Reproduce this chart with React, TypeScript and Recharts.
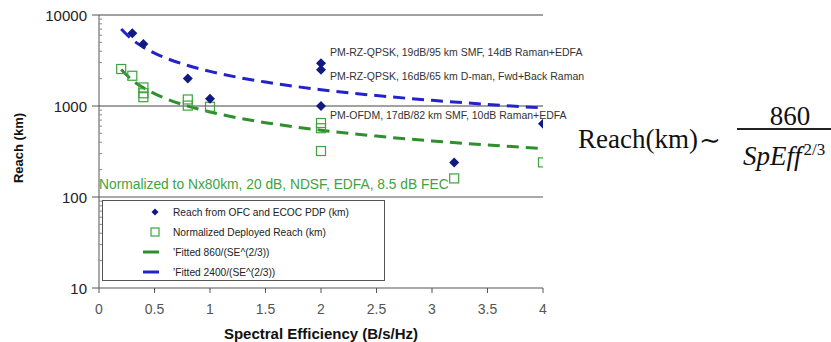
import React from "react";
import {
  ComposedChart,
  XAxis,
  YAxis,
  Line,
  Scatter,
  ReferenceLine,
} from "recharts";

// Reach from OFC and ECOC PDP (km)
const reachX = [0.3, 0.4, 0.8, 1.0, 2.0, 2.0, 2.0, 3.2, 4.0];
const reachY = [6300, 4800, 2000, 1200, 2950, 2500, 1000, 240, 640];

// Normalized Deployed Reach (km)
const normX = [0.2, 0.3, 0.4, 0.4, 0.4, 0.8, 0.8, 1.0, 2.0, 2.0, 2.0, 3.2, 4.0];
const normY = [2550, 2150, 1600, 1380, 1250, 1180, 1010, 980, 650, 570, 320, 160, 240];

// Fitted curves
const fitX = [0.2, 0.3, 0.4, 0.5, 0.6, 0.8, 1.0, 1.25, 1.5, 2.0, 2.5, 3.0, 3.5, 4.0];
const fit860Y = [2515, 1919, 1584, 1365, 1209, 998, 860, 741, 656, 542, 467, 413, 373, 341];
const fit2400Y = [7018, 5356, 4421, 3810, 3374, 2785, 2400, 2068, 1831, 1512, 1303, 1154, 1041, 952];

const xTicks = [0, 0.5, 1, 1.5, 2, 2.5, 3, 3.5, 4];
const yMajor = [10, 100, 1000, 10000];
const yTicksAll = [
  10, 20, 30, 40, 50, 60, 70, 80, 90,
  100, 200, 300, 400, 500, 600, 700, 800, 900,
  1000, 2000, 3000, 4000, 5000, 6000, 7000, 8000, 9000,
  10000,
];

const annotations = [
  "PM-RZ-QPSK, 19dB/95 km SMF, 14dB Raman+EDFA",
  "PM-RZ-QPSK, 16dB/65 km D-man, Fwd+Back Raman",
  "PM-OFDM, 17dB/82 km SMF, 10dB Raman+EDFA",
];
const noteText = "Normalized to Nx80km, 20 dB, NDSF, EDFA, 8.5 dB FEC";
const legendLabels = [
  "Reach from OFC and ECOC PDP (km)",
  "Normalized Deployed Reach (km)",
  "Fitted 860/(SE^(2/3))",
  "Fitted 2400/(SE^(2/3))",
];

const reachData = reachX.map((x, i) => ({ x, y: reachY[i] }));
const normData = normX.map((x, i) => ({ x, y: normY[i] }));
const fit860 = fitX.map((x, i) => ({ x, y: fit860Y[i] }));
const fit2400 = fitX.map((x, i) => ({ x, y: fit2400Y[i] }));

const NAVY = "#111a80";
const BLUE = "#2323c8";
const GREEN = "#2f8f2f";
const SQGREEN = "#3da33d";
const FONT = "Arial, 'Liberation Sans', sans-serif";
const SERIF = "'Liberation Serif', 'DejaVu Serif', serif";

const Diamond = (props: any) => {
  const { cx, cy } = props;
  if (cx == null || cy == null) return null;
  const r = 5;
  return (
    <path
      d={`M${cx},${cy - r} L${cx + r},${cy} L${cx},${cy + r} L${cx - r},${cy} Z`}
      fill={NAVY}
    />
  );
};

const Square = (props: any) => {
  const { cx, cy } = props;
  if (cx == null || cy == null) return null;
  const r = 4.5;
  return (
    <rect
      x={cx - r}
      y={cy - r}
      width={2 * r}
      height={2 * r}
      fill="none"
      stroke={SQGREEN}
      strokeWidth={1.2}
    />
  );
};

const YTick = (props: any) => {
  const { x, y, payload } = props;
  const v = payload.value;
  const major = yMajor.includes(v);
  if (major) {
    return (
      <g>
        <line x1={x - 7} y1={y} x2={x} y2={y} stroke="#555" strokeWidth={1} />
        <text
          x={x - 12}
          y={y}
          textAnchor="end"
          dominantBaseline="central"
          fontSize={15}
          fontFamily={FONT}
          fill="#222"
        >
          {v}
        </text>
      </g>
    );
  }
  return <line x1={x} y1={y} x2={x + 3} y2={y} stroke="#888" strokeWidth={1} />;
};

const XTick = (props: any) => {
  const { x, y, payload } = props;
  return (
    <g>
      <line x1={x} y1={y} x2={x} y2={y + 5} stroke="#555" strokeWidth={1} />
      <text
        x={x}
        y={y + 21}
        textAnchor="middle"
        dominantBaseline="central"
        fontSize={14}
        fontFamily={FONT}
        fill="#555"
      >
        {payload.value}
      </text>
    </g>
  );
};

export default function App() {
  return (
    <div
      style={{
        position: "absolute",
        left: 0,
        top: 0,
        width: 831,
        height: 342,
        background: "#fff",
        fontFamily: FONT,
      }}
    >
      <ComposedChart
        width={831}
        height={342}
        margin={{ top: 15, right: 288, bottom: 0, left: 0 }}
      >
        <XAxis
          dataKey="x"
          type="number"
          domain={[0, 4]}
          ticks={xTicks}
          tick={<XTick />}
          tickLine={false}
          tickSize={0}
          tickMargin={0}
          axisLine={{ stroke: "#555" }}
          height={54}
          allowDataOverflow
        />
        <YAxis
          dataKey="y"
          type="number"
          scale="log"
          domain={[10, 10000]}
          ticks={yTicksAll}
          tick={<YTick />}
          tickLine={false}
          tickSize={0}
          tickMargin={0}
          axisLine={{ stroke: "#555" }}
          width={99}
          interval={0}
          allowDataOverflow
        />
        <ReferenceLine y={100} stroke="#555" strokeWidth={1} />
        <ReferenceLine y={1000} stroke="#444" strokeWidth={1} />
        <ReferenceLine y={10000} stroke="#444" strokeWidth={1} />
        <Line
          data={fit860}
          dataKey="y"
          type="monotone"
          stroke={GREEN}
          strokeWidth={3}
          strokeDasharray="12 7"
          dot={false}
          activeDot={false}
          isAnimationActive={false}
        />
        <Line
          data={fit2400}
          dataKey="y"
          type="monotone"
          stroke={BLUE}
          strokeWidth={3}
          strokeDasharray="12 7"
          dot={false}
          activeDot={false}
          isAnimationActive={false}
        />
        <Scatter
          data={normData}
          dataKey="y"
          shape={<Square />}
          isAnimationActive={false}
        />
        <Scatter
          data={reachData}
          dataKey="y"
          shape={<Diamond />}
          isAnimationActive={false}
        />
      </ComposedChart>

      {/* Axis titles */}
      <div
        style={{
          position: "absolute",
          left: 18,
          top: 148,
          transform: "translate(-50%, -50%) rotate(-90deg)",
          fontWeight: "bold",
          fontSize: 13,
          whiteSpace: "nowrap",
          color: "#111",
        }}
      >
        Reach (km)
      </div>
      <div
        style={{
          position: "absolute",
          left: 321,
          top: 333,
          transform: "translate(-50%, -50%)",
          fontWeight: "bold",
          fontSize: 15,
          whiteSpace: "nowrap",
          color: "#111",
        }}
      >
        Spectral Efficiency (B/s/Hz)
      </div>

      {/* Annotations */}
      {annotations.map((t, i) => (
        <div
          key={t}
          style={{
            position: "absolute",
            left: 330,
            top: [52, 76, 115][i],
            transform: "translateY(-50%)",
            fontSize: 10.5,
            whiteSpace: "nowrap",
            color: "#333",
          }}
        >
          {t}
        </div>
      ))}

      <div
        style={{
          position: "absolute",
          left: 99,
          top: 184,
          transform: "translateY(-50%)",
          fontSize: 13.8,
          whiteSpace: "nowrap",
          color: "#3fa33f",
        }}
      >
        {noteText}
      </div>

      {/* Legend box */}
      <div
        style={{
          position: "absolute",
          left: 102,
          top: 200,
          width: 283,
          height: 81,
          border: "1px solid #555",
          boxSizing: "border-box",
          background: "#fff",
        }}
      >
        {legendLabels.map((t, i) => (
          <div
            key={t}
            style={{
              position: "absolute",
              left: 0,
              top: 11 + i * 20,
              width: "100%",
              height: 0,
            }}
          >
            <svg
              style={{ position: "absolute", left: 38, top: -6 }}
              width={20}
              height={12}
            >
              {i === 0 && <path d="M14,2.5 L17.5,6 L14,9.5 L10.5,6 Z" fill={NAVY} />}
              {i === 1 && (
                <rect x={10} y={2} width={8} height={8} fill="none" stroke={SQGREEN} strokeWidth={1.2} />
              )}
              {i === 2 && <line x1={2} y1={6} x2={18} y2={6} stroke={GREEN} strokeWidth={3} />}
              {i === 3 && <line x1={2} y1={6} x2={18} y2={6} stroke={BLUE} strokeWidth={3} />}
            </svg>
            <div
              style={{
                position: "absolute",
                left: 70,
                top: 0,
                transform: "translateY(-50%)",
                fontSize: 10.2,
                whiteSpace: "nowrap",
                color: "#222",
              }}
            >
              {i >= 2 ? "\u02BC" : ""}
              {t}
            </div>
          </div>
        ))}
      </div>

      {/* Formula */}
      <div
        style={{
          position: "absolute",
          left: 578,
          top: 139,
          transform: "translateY(-50%)",
          fontFamily: SERIF,
          fontSize: 27,
          whiteSpace: "nowrap",
          color: "#111",
        }}
      >
        Reach(km)
      </div>
      <div
        style={{
          position: "absolute",
          left: 699,
          top: 140,
          transform: "translateY(-50%)",
          fontFamily: SERIF,
          fontSize: 26,
          color: "#111",
        }}
      >
        {"\u223C"}
      </div>
      <div
        style={{
          position: "absolute",
          left: 737,
          top: 128,
          width: 94,
          height: 1.5,
          background: "#222",
        }}
      />
      <div
        style={{
          position: "absolute",
          left: 790,
          top: 116,
          transform: "translate(-50%, -50%)",
          fontFamily: SERIF,
          fontSize: 27,
          color: "#111",
        }}
      >
        860
      </div>
      <div
        style={{
          position: "absolute",
          left: 743,
          top: 156,
          transform: "translateY(-50%)",
          fontFamily: SERIF,
          fontSize: 27,
          fontStyle: "italic",
          whiteSpace: "nowrap",
          color: "#111",
        }}
      >
        SpEff
        <span style={{ fontStyle: "normal", fontSize: 17, verticalAlign: "0.6em", marginLeft: 2 }}>2/3</span>
      </div>
    </div>
  );
}
